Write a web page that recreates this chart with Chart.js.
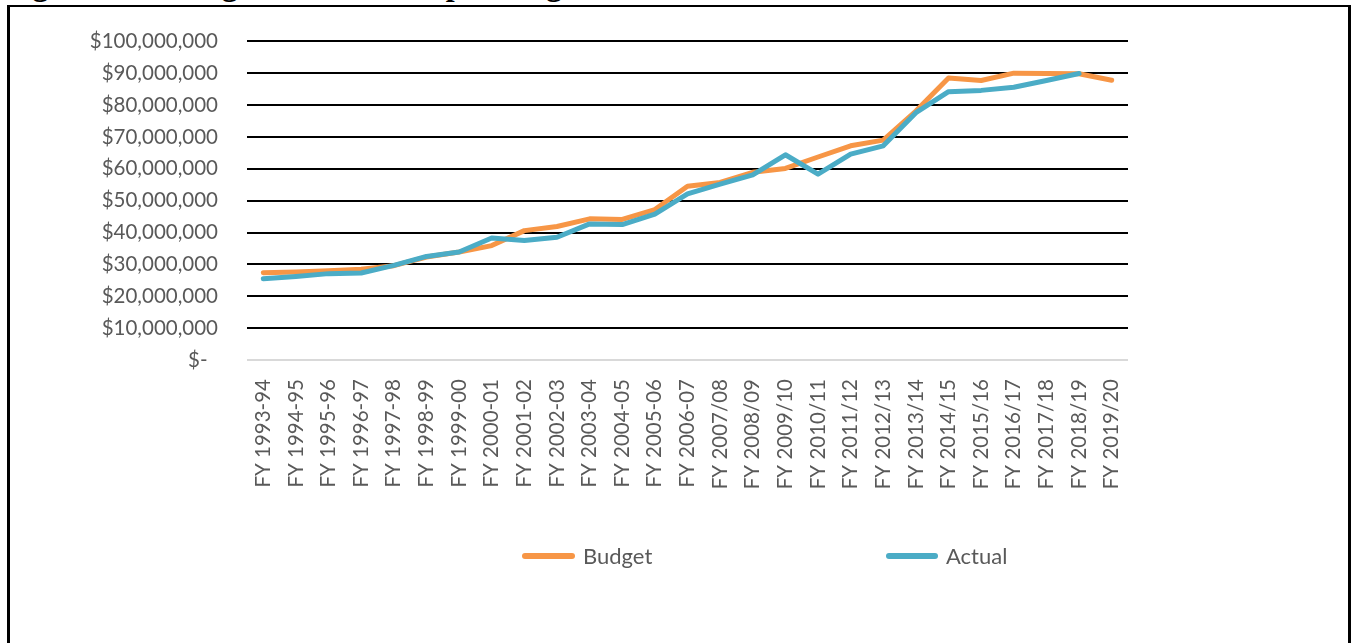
<!DOCTYPE html>
<html>
<head>
<meta charset="utf-8">
<script src="https://cdn.jsdelivr.net/npm/chart.js@4.4.1/dist/chart.umd.min.js"></script>
<style>
  body { margin: 0; background: #fff; width: 1351px; height: 643px; overflow: hidden; position: relative; }
  #chart { position: absolute; left: 0; top: 0; }
  .frame { position: absolute; left: 7px; top: 5px; width: 1344px; height: 700px; box-sizing: border-box;
           border: 3px solid #000; border-top-width: 2px; border-bottom: none; }
  .title { position: absolute; left: 2px; top: -32px; font: bold 32px "Liberation Serif", serif;
           line-height: 32px; letter-spacing: 1px; color: #000; white-space: nowrap; }
  .key { position: absolute; height: 6px; border-radius: 3px; }
  .key-text { position: absolute; font: 22px Lato, sans-serif; line-height: 22px; color: #595959; }
</style>
</head>
<body>
<div class="title">Figure 10: Budget vs. Actual Spending</div>
<canvas id="chart" width="1351" height="643"></canvas>
<div class="frame"></div>

<div class="key" style="left:522px; top:553px; width:53px; background:#F79646"></div>
<div class="key-text" style="left:583px; top:545px">Budget</div>
<div class="key" style="left:886px; top:553px; width:52px; background:#4BACC6"></div>
<div class="key-text" style="left:946px; top:545px">Actual</div>

<script>
const years = [
  "FY 1993-94", "FY 1994-95", "FY 1995-96", "FY 1996-97", "FY 1997-98", "FY 1998-99",
  "FY 1999-00", "FY 2000-01", "FY 2001-02", "FY 2002-03", "FY 2003-04", "FY 2004-05",
  "FY 2005-06", "FY 2006-07", "FY 2007/08", "FY 2008/09", "FY 2009/10", "FY 2010/11",
  "FY 2011/12", "FY 2012/13", "FY 2013/14", "FY 2014/15", "FY 2015/16", "FY 2016/17",
  "FY 2017/18", "FY 2018/19", "FY 2019/20"
];

const budget = [
  27400000, 27600000, 28000000, 28500000, 29600000, 32300000,
  33900000, 35900000, 40600000, 41900000, 44300000, 44100000,
  47200000, 54500000, 55700000, 58900000, 60100000, 63700000,
  67200000, 69000000, 78100000, 88500000, 87700000, 90000000,
  89900000, 89800000, 87800000
];

const actual = [
  25500000, 26200000, 27100000, 27300000, 29700000, 32500000,
  33900000, 38300000, 37500000, 38500000, 42700000, 42500000,
  45800000, 52100000, 55200000, 58100000, 64400000, 58300000,
  64600000, 67200000, 77600000, 84200000, 84600000, 85600000,
  87700000, 89900000, null
];

const yTicksMax = 100000000;
const yTicksStep = 10000000;

const grey = "#595959";

new Chart(document.getElementById("chart"), {
  type: "line",
  data: {
    labels: years,
    datasets: [
      {
        label: "Budget",
        data: budget,
        borderColor: "#F79646",
        backgroundColor: "#F79646",
        borderWidth: 5,
        pointRadius: 0,
        borderCapStyle: "round",
        borderJoinStyle: "round",
        order: 1
      },
      {
        label: "Actual",
        data: actual,
        borderColor: "#4BACC6",
        backgroundColor: "#4BACC6",
        borderWidth: 5,
        pointRadius: 0,
        borderCapStyle: "round",
        borderJoinStyle: "round",
        order: 0
      }
    ]
  },
  options: {
    responsive: false,
    animation: false,
    layout: { padding: { top: 40, right: 223, left: 0, bottom: 0 } },
    plugins: {
      legend: { display: false },
      tooltip: { enabled: false }
    },
    scales: {
      x: {
        offset: true,
        grid: { display: false },
        border: { display: false },
        ticks: {
          color: grey,
          font: { family: "Lato", size: 20.5 },
          autoSkip: false,
          minRotation: 90,
          maxRotation: 90,
          padding: 11
        },
        afterFit: (scale) => { scale.height = 283; }
      },
      y: {
        min: 0,
        max: yTicksMax,
        border: { display: false },
        grid: {
          drawTicks: false,
          lineWidth: 2,
          color: (ctx) => (ctx.tick && ctx.tick.value === 0 ? "#d9d9d9" : "#000")
        },
        ticks: {
          stepSize: yTicksStep,
          color: grey,
          font: { family: "Lato", size: 20.5 },
          padding: 29,
          callback: (value) => (value === 0 ? "$-  " : "$" + value.toLocaleString("en-US"))
        },
        afterFit: (scale) => { scale.width = 247; }
      }
    }
  }
});
</script>
</body>
</html>
